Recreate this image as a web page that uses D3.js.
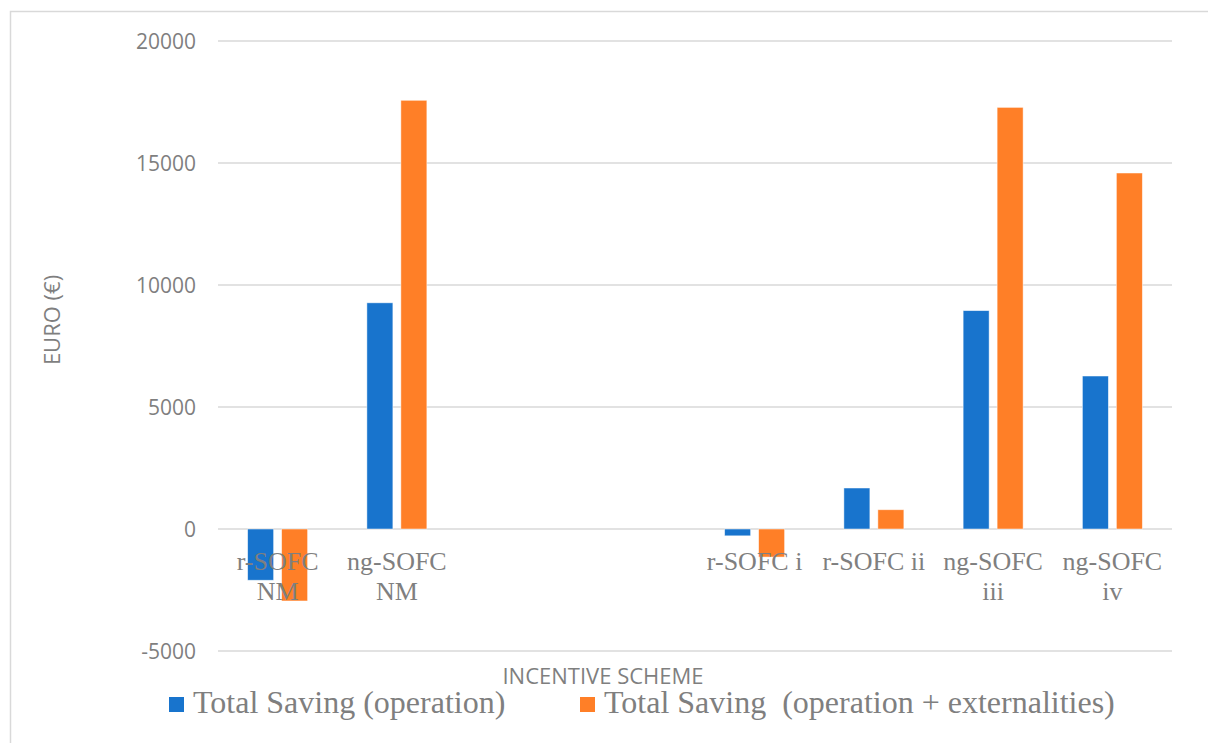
<!DOCTYPE html>
<html>
<head>
<meta charset="utf-8">
<script src="https://cdn.jsdelivr.net/npm/d3@7"></script>
<style>
  html, body { margin: 0; padding: 0; background: #fff; }
  svg { display: block; }
</style>
</head>
<body>
<svg id="chart" width="1208" height="743"></svg>
<script>
// ---- data ----
const categories = ["r-SOFC NM", "ng-SOFC NM", "", "", "r-SOFC i", "r-SOFC ii", "ng-SOFC iii", "ng-SOFC iv"];
const seriesNames = ["Total Saving (operation)", "Total Saving  (operation + externalities)"];
const savingOperation = [-2100, 9270, null, null, -280, 1680, 8950, 6270];
const savingExternalities = [-2950, 17570, null, null, -1150, 790, 17280, 14590];
const yTicks = [-5000, 0, 5000, 10000, 15000, 20000];
const yTitle = "EURO (€)";
const xTitle = "INCENTIVE SCHEME";
const colors = ["#1874cd", "#ff7f27"];

(function () {
// ---- layout ----
const svg = d3.select("#chart");
const pLeft = 218, pRight = 1172, pTop = 41, pBottom = 651;
const grey = "#7f7f7f";

// border of chart area
svg.append("path").attr("d", "M10.5,743 L10.5,11.5 L1208,11.5")
  .attr("fill", "none").attr("stroke", "#d9d9d9").attr("stroke-width", 1.5);

const x0 = d3.scaleBand().domain(d3.range(categories.length)).range([pLeft, pRight])
  .paddingInner(0.497).paddingOuter(0.2485);
const x1 = d3.scaleBand().domain([0, 1]).range([0, x0.bandwidth()]).paddingInner(0.235);
const y = d3.scaleLinear().domain([-5000, 20000]).range([pBottom, pTop]);

// gridlines
svg.append("g").selectAll("line").data(yTicks).join("line")
  .attr("x1", pLeft).attr("x2", pRight)
  .attr("y1", d => y(d)).attr("y2", d => y(d))
  .attr("stroke", "#d9d9d9").attr("stroke-width", 1.5);

// y tick labels
svg.append("g").selectAll("text").data(yTicks).join("text")
  .attr("x", 196).attr("y", d => y(d)).attr("dy", "0.36em")
  .attr("text-anchor", "end")
  .attr("font-family", "'Open Sans', sans-serif").attr("font-size", 21)
  .attr("fill", grey).text(d => d);

// bars
const seriesValues = [savingOperation, savingExternalities];
seriesValues.forEach((vals, s) => {
  svg.append("g").selectAll("rect")
    .data(vals.map((v, i) => ({ v, i })).filter(d => d.v !== null))
    .join("rect")
    .attr("x", d => x0(d.i) + x1(s))
    .attr("width", x1.bandwidth())
    .attr("y", d => y(Math.max(0, d.v)))
    .attr("height", d => Math.abs(y(d.v) - y(0)))
    .attr("fill", colors[s])
    .attr("stroke", "rgba(255,255,255,0.6)").attr("stroke-width", 0.8);
});

// category labels (wrapped to band width), drawn over the bars
const step = x0.step();
const labelG = svg.append("g");
categories.forEach((c, i) => {
  if (!c) return;
  const t = labelG.append("text")
    .attr("font-family", "'Liberation Serif', 'Times New Roman', serif")
    .attr("font-size", 26).attr("fill", grey).attr("text-anchor", "middle");
  const cx = x0(i) + x0.bandwidth() / 2;
  const words = c.split(" ");
  let lines = [], cur = [];
  words.forEach(w => {
    cur.push(w);
    t.text(cur.join(" "));
    if (t.node().getComputedTextLength() > step - 4 && cur.length > 1) {
      cur.pop(); lines.push(cur.join(" ")); cur = [w];
    }
  });
  lines.push(cur.join(" "));
  t.text(null);
  lines.forEach((l, k) => {
    t.append("tspan").attr("x", cx).attr("y", 570 + k * 30).text(l);
  });
});

// axis titles
svg.append("text").attr("x", 603).attr("y", 684).attr("text-anchor", "middle")
  .attr("font-family", "'Open Sans', sans-serif").attr("font-size", 22)
  .attr("fill", grey).text(xTitle);
svg.append("text").attr("transform", "translate(60,320) rotate(-90)")
  .attr("text-anchor", "middle")
  .attr("font-family", "'Open Sans', sans-serif").attr("font-size", 22)
  .attr("fill", grey).text(yTitle);

// legend
const legendX = [169, 580];
seriesNames.forEach((n, s) => {
  svg.append("rect").attr("x", legendX[s]).attr("y", 697).attr("width", 15).attr("height", 15)
    .attr("fill", colors[s]);
  svg.append("text").attr("x", legendX[s] + 24).attr("y", 713)
    .attr("font-family", "'Liberation Serif', 'Times New Roman', serif")
    .attr("font-size", 32).attr("fill", grey)
    .style("white-space", "pre").text(n);
});
})();
</script>
</body>
</html>
